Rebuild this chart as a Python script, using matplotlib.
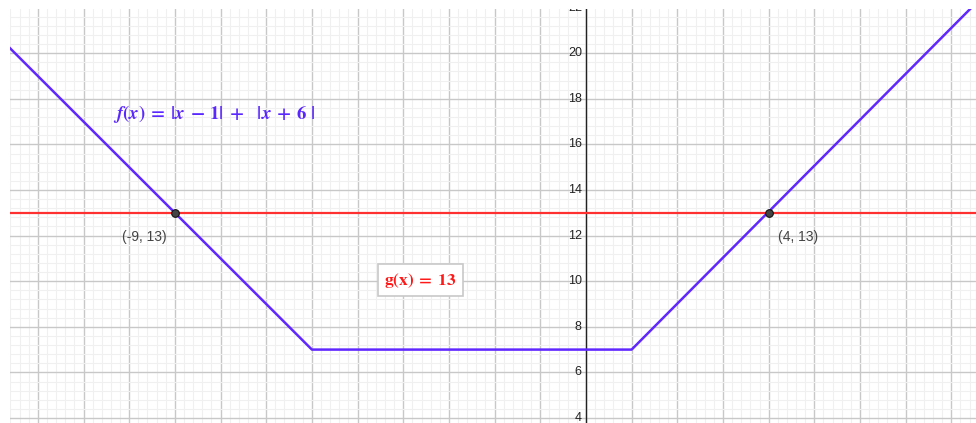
import numpy as np
import matplotlib.pyplot as plt
from matplotlib.ticker import MultipleLocator

# corner points of f(x) = |x - 1| + |x + 6| as seen in the window
f_x = [-12.61, -6, 1, 8.54]
f_y = [20.22, 7, 7, 22.2]

g_value = 13
points_x = [-9, 4]
points_y = [13, 13]
point_labels = ["(-9, 13)", "(4, 13)"]

y_ticks = [4, 6, 8, 10, 12, 14, 16, 18, 20, 22]

xmin, xmax = -12.61, 8.54
ymin, ymax = 3.78, 21.94

plt.rcParams['mathtext.fontset'] = 'stix'

fig = plt.figure(figsize=(9.76, 4.23), dpi=100)
ax = fig.add_axes([10 / 976, 0, 966 / 976, 414 / 423])
ax.set_xlim(xmin, xmax)
ax.set_ylim(ymin, ymax)

# grid like GeoGebra: major every 1 (x) / 2 (y), 5 subdivisions
ax.xaxis.set_major_locator(MultipleLocator(1))
ax.xaxis.set_minor_locator(MultipleLocator(0.2))
ax.yaxis.set_major_locator(MultipleLocator(2))
ax.yaxis.set_minor_locator(MultipleLocator(0.4))
ax.grid(which='major', color='#c8c8c8', linewidth=1.0)
ax.grid(which='minor', color='#f0f0f0', linewidth=0.8)
ax.set_axisbelow(True)
ax.tick_params(which='both', length=0, labelleft=False, labelbottom=False)
for s in ax.spines.values():
    s.set_visible(False)

# y axis at x = 0
ax.axvline(0, color='#222222', linewidth=1.0, zorder=2)
for t in y_ticks:
    ax.text(-0.09, t, str(t), ha='right', va='center', fontsize=9,
            family='Liberation Sans', color='#222222', clip_on=True)

ax.axhline(g_value, color='#ff3030', linewidth=1.6, zorder=3)
ax.plot(f_x, f_y, color='#6028ff', linewidth=1.8, zorder=4)
ax.plot(points_x, points_y, 'o', markersize=5.5, markerfacecolor='#444444',
        markeredgecolor='#111111', markeredgewidth=0.8, zorder=5)

ax.text(-9.66, 11.95, point_labels[0], ha='center', va='center', fontsize=10,
        family='Liberation Sans', color='#444444')
ax.text(4.64, 11.95, point_labels[1], ha='center', va='center', fontsize=10,
        family='Liberation Sans', color='#444444')

ax.text(-10.36, 17.35,
        r'$\boldsymbol{f(x)\;=\;|x\;-\;1|\;+\;\ \;|x\;+\;6\ |}$',
        ha='left', va='center', fontsize=13.5, color='#5a28ff')

ax.text(-3.62, 10.05, r'$\mathbf{g(x)\;=\;13}$', ha='center', va='center',
        fontsize=12.5, color='#ff1a1a',
        bbox=dict(boxstyle='square,pad=0.35', facecolor='white',
                  edgecolor='#c8c8c8', linewidth=1.2))

fig.savefig('out.png', dpi=100)
